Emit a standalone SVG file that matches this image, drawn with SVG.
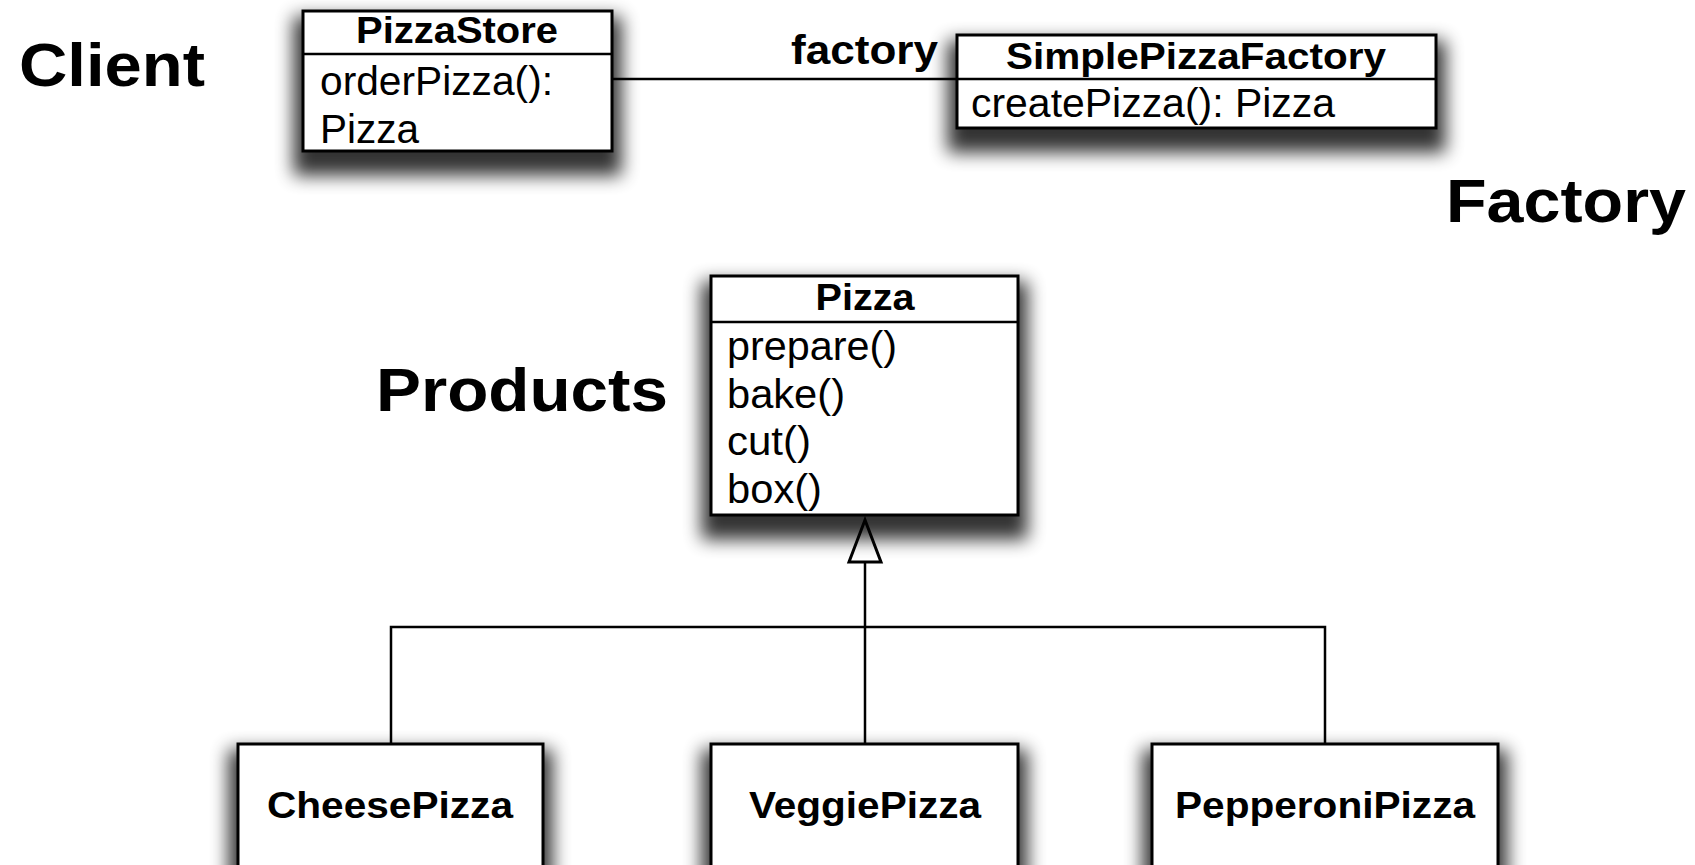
<svg xmlns="http://www.w3.org/2000/svg" width="1695" height="865" viewBox="0 0 1695 865">
<defs>
<filter id="sh" x="-30%" y="-30%" width="160%" height="200%">
<feMorphology in="SourceAlpha" operator="dilate" radius="8" result="d"/>
<feOffset in="d" dx="0" dy="15" result="o"/>
<feGaussianBlur in="o" stdDeviation="9" result="b"/>
<feComponentTransfer in="b" result="s"><feFuncA type="linear" slope="0.8"/></feComponentTransfer>
<feMerge><feMergeNode in="s"/><feMergeNode in="SourceGraphic"/></feMerge>
</filter>
</defs>
<style>
.box{fill:#fff;stroke:#000;stroke-width:3}
.div{stroke:#000;stroke-width:2.5}
.title{font-family:"Liberation Sans",Arial,sans-serif;font-weight:bold;font-size:36px;text-anchor:middle;fill:#000}
.meth{font-family:"Liberation Sans",Arial,sans-serif;font-size:40px;fill:#000}
.big{font-family:"Liberation Sans",Arial,sans-serif;font-weight:bold;font-size:62px;fill:#000}
.lbl{font-family:"Liberation Sans",Arial,sans-serif;font-weight:bold;font-size:40px;fill:#000}
.con{fill:none;stroke:#000;stroke-width:2.5}
</style>
<rect width="1695" height="865" fill="#fff"/>
<text class="big" x="19" y="86" textLength="186" lengthAdjust="spacingAndGlyphs">Client</text>
<text class="big" x="1446" y="222" textLength="240" lengthAdjust="spacingAndGlyphs">Factory</text>
<text class="big" x="376" y="411" textLength="292" lengthAdjust="spacingAndGlyphs">Products</text>
<g id="connectors">
<line class="con" x1="612" y1="79" x2="957" y2="79"/>
<text class="lbl" x="791" y="64" textLength="147" lengthAdjust="spacingAndGlyphs">factory</text>
<polyline class="con" points="391,744 391,627 1325,627 1325,744"/>
<line class="con" x1="865" y1="562" x2="865" y2="744"/>
<polygon points="865,520 849,562 881,562" fill="#fff" stroke="#000" stroke-width="3"/>
</g>
<g id="PizzaStore">
<rect class="box" x="303" y="11" width="309" height="140" filter="url(#sh)"/>
<line class="div" x1="303" y1="54" x2="612" y2="54"/>
<text class="title" x="457" y="43" textLength="202" lengthAdjust="spacingAndGlyphs">PizzaStore</text>
<text class="meth" x="320" y="95" textLength="233" lengthAdjust="spacingAndGlyphs">orderPizza():</text>
<text class="meth" x="320" y="143" textLength="99" lengthAdjust="spacingAndGlyphs">Pizza</text>
</g>
<g id="SimplePizzaFactory">
<rect class="box" x="957" y="35" width="479" height="93" filter="url(#sh)"/>
<line class="div" x1="957" y1="79" x2="1436" y2="79"/>
<text class="title" x="1196" y="69" textLength="380" lengthAdjust="spacingAndGlyphs">SimplePizzaFactory</text>
<text class="meth" x="971" y="117" textLength="364" lengthAdjust="spacingAndGlyphs">createPizza(): Pizza</text>
</g>
<g id="Pizza">
<rect class="box" x="711" y="276" width="307" height="239" filter="url(#sh)"/>
<line class="div" x1="711" y1="322" x2="1018" y2="322"/>
<text class="title" x="865" y="310" textLength="99" lengthAdjust="spacingAndGlyphs">Pizza</text>
<text class="meth" x="727" y="360" textLength="170" lengthAdjust="spacingAndGlyphs">prepare()</text>
<text class="meth" x="727" y="408" textLength="118" lengthAdjust="spacingAndGlyphs">bake()</text>
<text class="meth" x="727" y="455" textLength="84" lengthAdjust="spacingAndGlyphs">cut()</text>
<text class="meth" x="727" y="503" textLength="95" lengthAdjust="spacingAndGlyphs">box()</text>
</g>
<g id="CheesePizza">
<rect class="box" x="238" y="744" width="305" height="160" filter="url(#sh)"/>
<text class="title" x="390" y="818" textLength="246" lengthAdjust="spacingAndGlyphs">CheesePizza</text>
</g>
<g id="VeggiePizza">
<rect class="box" x="711" y="744" width="307" height="160" filter="url(#sh)"/>
<text class="title" x="865" y="818" textLength="232" lengthAdjust="spacingAndGlyphs">VeggiePizza</text>
</g>
<g id="PepperoniPizza">
<rect class="box" x="1152" y="744" width="346" height="160" filter="url(#sh)"/>
<text class="title" x="1325" y="818" textLength="300" lengthAdjust="spacingAndGlyphs">PepperoniPizza</text>
</g>
</svg>
